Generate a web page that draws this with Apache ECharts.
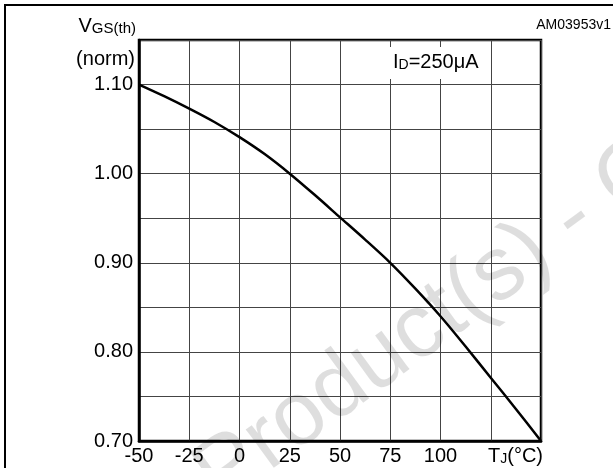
<!DOCTYPE html>
<html>
<head>
<meta charset="utf-8">
<script src="https://cdn.jsdelivr.net/npm/echarts@6/dist/echarts.min.js"></script>
<style>
  html, body { margin: 0; padding: 0; background: #fff; }
  #chart { width: 613px; height: 468px; }
</style>
</head>
<body>
<div id="chart"></div>
<script>
// normalized gate threshold voltage vs junction temperature
var temps = [-50, -37.5, -25, -12.5, 0, 12.5, 25, 37.5, 50, 62.5, 75, 87.5, 100, 112.5, 125, 137.5, 150];
var vgsNorm = [1.100, 1.087, 1.073, 1.058, 1.041, 1.022, 1.000, 0.976, 0.951, 0.926, 0.900, 0.871, 0.840, 0.806, 0.771, 0.736, 0.700];
var xTickLabels = [-50, -25, 0, 25, 50, 75, 100];
var yTickLabels = [0.70, 0.80, 0.90, 1.00, 1.10];

var font = "'Liberation Sans', Arial, Helvetica, sans-serif";

var points = [];
for (var i = 0; i < temps.length; i++) {
  points.push([temps[i], vgsNorm[i]]);
}

var chart = echarts.init(document.getElementById('chart'));

var option = {
  backgroundColor: '#fff',
  animation: false,
  grid: {
    left: 139,
    right: 72,
    top: 40,
    bottom: 27,
    show: true,
    borderColor: '#000',
    borderWidth: 2.5,
    backgroundColor: 'transparent'
  },
  xAxis: {
    type: 'value',
    min: -50,
    max: 150,
    interval: 25,
    axisLine: { show: true, onZero: false, lineStyle: { color: '#000', width: 2.5 } },
    axisTick: { show: false },
    splitLine: { show: true, lineStyle: { color: '#444', width: 1 } },
    axisLabel: {
      color: '#000',
      fontFamily: font,
      fontSize: 20,
      margin: 5,
      formatter: function (v) {
        return xTickLabels.indexOf(v) >= 0 ? String(v) : '';
      }
    }
  },
  yAxis: {
    type: 'value',
    min: 0.70,
    max: 1.15,
    interval: 0.05,
    axisLine: { show: true, onZero: false, lineStyle: { color: '#000', width: 2.5 } },
    axisTick: { show: false },
    splitLine: { show: true, lineStyle: { color: '#444', width: 1 } },
    axisLabel: {
      color: '#000',
      fontFamily: font,
      fontSize: 20,
      margin: 6,
      formatter: function (v) {
        var k = Math.round(v * 100);
        for (var j = 0; j < yTickLabels.length; j++) {
          if (Math.round(yTickLabels[j] * 100) === k) return (k / 100).toFixed(2);
        }
        return '';
      }
    }
  },
  series: [
    {
      type: 'line',
      data: points,
      showSymbol: false,
      smooth: 0.3,
      lineStyle: { color: '#000', width: 2.5 },
      z: 3
    }
  ],
  graphic: [
    // outer frame
    {
      type: 'rect',
      shape: { x: 5, y: 5, width: 700, height: 600 },
      style: { fill: 'none', stroke: '#000', lineWidth: 2 },
      z: 50
    },
    // watermark
    {
      type: 'text',
      x: 232,
      y: 523,
      rotation: 36 * Math.PI / 180,
      z: 60,
      style: {
        text: 'Product(s) - Obsolete Product(s)',
        fontFamily: font,
        fontSize: 90,
        fill: 'rgba(0,0,0,0.13)',
        textAlign: 'left',
        textVerticalAlign: 'bottom'
      }
    },
    {
      type: 'text',
      x: 136,
      y: 26,
      z: 100,
      style: {
        text: '{a|V}{b|GS(th)}',
        textAlign: 'right',
        textVerticalAlign: 'middle',
        rich: {
          a: { fontFamily: font, fontSize: 20, fill: '#000', verticalAlign: 'bottom' },
          b: { fontFamily: font, fontSize: 15, fill: '#000', verticalAlign: 'bottom' }
        }
      }
    },
    {
      type: 'text',
      x: 135,
      y: 59,
      z: 100,
      style: {
        text: '(norm)',
        fontFamily: font,
        fontSize: 20,
        fill: '#000',
        textAlign: 'right',
        textVerticalAlign: 'middle'
      }
    },
    {
      type: 'text',
      x: 611,
      y: 25,
      z: 100,
      style: {
        text: 'AM03953v1',
        fontFamily: font,
        fontSize: 14,
        fill: '#000',
        textAlign: 'right',
        textVerticalAlign: 'middle'
      }
    },
    // ID label box
    {
      type: 'rect',
      shape: { x: 383, y: 47, width: 80, height: 32 },
      style: { fill: '#fff' },
      z: 90
    },
    {
      type: 'text',
      x: 393,
      y: 62,
      z: 100,
      style: {
        text: '{a|I}{b|D}{a|=250μA}',
        textAlign: 'left',
        textVerticalAlign: 'middle',
        rich: {
          a: { fontFamily: font, fontSize: 20, fill: '#000', verticalAlign: 'bottom' },
          b: { fontFamily: font, fontSize: 14, fill: '#000', verticalAlign: 'bottom' }
        }
      }
    },
    {
      type: 'text',
      x: 543,
      y: 456,
      z: 100,
      style: {
        text: '{a|T}{b|J}{a|(°C)}',
        textAlign: 'right',
        textVerticalAlign: 'middle',
        rich: {
          a: { fontFamily: font, fontSize: 20, fill: '#000', verticalAlign: 'bottom' },
          b: { fontFamily: font, fontSize: 14, fill: '#000', verticalAlign: 'bottom' }
        }
      }
    }
  ]
};

chart.setOption(option);
</script>
</body>
</html>
